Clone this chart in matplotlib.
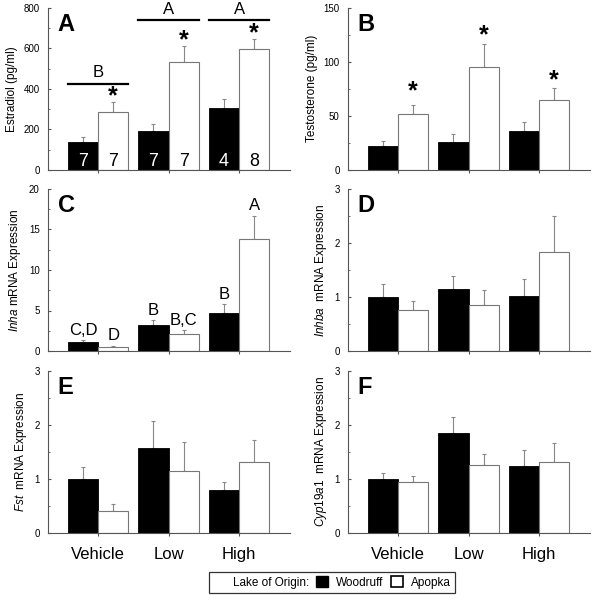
import numpy as np
import matplotlib
matplotlib.use("Agg")
import matplotlib.pyplot as plt
from matplotlib.patches import Patch
from matplotlib.ticker import AutoMinorLocator

plt.rcParams['font.family'] = ['Liberation Sans', 'DejaVu Sans']
plt.rcParams['mathtext.fontset'] = 'custom'
plt.rcParams['mathtext.it'] = 'Liberation Sans:italic'
plt.rcParams['mathtext.rm'] = 'Liberation Sans'

groups = ['Vehicle', 'Low', 'High']

# Estradiol (pg/ml)
e2_wood = [139, 193, 305]
e2_wood_err = [22, 33, 45]
e2_apop = [287, 530, 598]
e2_apop_err = [46, 81, 50]
e2_n_wood = [7, 7, 4]
e2_n_apop = [7, 7, 8]

# Testosterone (pg/ml)
t_wood = [22, 26, 36]
t_wood_err = [4.5, 7, 8]
t_apop = [51.5, 95, 65]
t_apop_err = [8.5, 21.5, 11]

# Inha
inha_wood = [1.1, 3.25, 4.7]
inha_wood_err = [0.2, 0.55, 1.1]
inha_apop = [0.55, 2.15, 13.8]
inha_apop_err = [0.12, 0.4, 2.9]
inha_wood_lbl = ['C,D', 'B', 'B']
inha_apop_lbl = ['D', 'B,C', 'A']

# Inhba
inhba_wood = [1.0, 1.14, 1.02]
inhba_wood_err = [0.24, 0.25, 0.31]
inhba_apop = [0.76, 0.86, 1.83]
inhba_apop_err = [0.17, 0.27, 0.67]

# Fst
fst_wood = [1.0, 1.57, 0.79]
fst_wood_err = [0.22, 0.5, 0.15]
fst_apop = [0.41, 1.15, 1.31]
fst_apop_err = [0.13, 0.54, 0.4]

# Cyp19a1
cyp_wood = [1.0, 1.85, 1.23]
cyp_wood_err = [0.11, 0.3, 0.31]
cyp_apop = [0.94, 1.26, 1.31]
cyp_apop_err = [0.11, 0.2, 0.36]

x = np.arange(len(groups))
w = 0.43


def draw_panel(ax, wood, wood_err, apop, apop_err, ymax, step, ylabel, letter):
    ax.bar(x - w / 2, wood, w, color='black', edgecolor='black', lw=0.6, zorder=2)
    ax.bar(x + w / 2, apop, w, color='white', edgecolor='#777777', lw=0.8, zorder=2)
    ax.errorbar(x - w / 2, wood, yerr=[np.zeros(3), wood_err], fmt='none',
                ecolor='#888888', elinewidth=0.8, capsize=1.5, capthick=0.8, zorder=1)
    ax.errorbar(x + w / 2, apop, yerr=[np.zeros(3), apop_err], fmt='none',
                ecolor='#888888', elinewidth=0.8, capsize=1.5, capthick=0.8, zorder=1)
    ax.set_xlim(-0.71, 2.72)
    ax.set_ylim(0, ymax)
    ax.set_yticks(np.arange(0, ymax + step / 2, step))
    ax.yaxis.set_minor_locator(AutoMinorLocator(2))
    ax.set_xticks(x)
    ax.set_xticklabels([])
    for s in ['top', 'right']:
        ax.spines[s].set_visible(False)
    for s in ['left', 'bottom']:
        ax.spines[s].set_color('#555555')
        ax.spines[s].set_linewidth(0.8)
    ax.tick_params(axis='y', direction='in', length=2.5, labelsize=7, color='#555555', pad=6)
    ax.tick_params(axis='y', which='minor', direction='in', length=1.5, color='#555555')
    ax.tick_params(axis='x', direction='out', length=2, color='#555555')
    ax.set_ylabel(ylabel, fontsize=8.5, labelpad=4)
    ax.text(0.04, 0.97, letter, transform=ax.transAxes, fontsize=17,
            fontweight='bold', va='top', ha='left')


def star(ax, xpos, top, offset_pt):
    # asterisk glyph sits high above its baseline, so anchor the baseline below
    ax.annotate('*', xy=(xpos, top), xytext=(0, offset_pt - 7),
                textcoords='offset points', fontsize=18, fontweight='bold',
                ha='center', va='baseline')


fig = plt.figure(figsize=(6, 6), dpi=100)
lefts = [0.08, 0.58]
bottoms = [0.717, 0.415, 0.112]
axw, axh = 0.403, 0.27

axA = fig.add_axes([lefts[0], bottoms[0], axw, axh])
axB = fig.add_axes([lefts[1], bottoms[0], axw, axh])
axC = fig.add_axes([lefts[0], bottoms[1], axw, axh])
axD = fig.add_axes([lefts[1], bottoms[1], axw, axh])
axE = fig.add_axes([lefts[0], bottoms[2], axw, axh])
axF = fig.add_axes([lefts[1], bottoms[2], axw, axh])

draw_panel(axA, e2_wood, e2_wood_err, e2_apop, e2_apop_err, 800, 200, 'Estradiol (pg/ml)', 'A')
draw_panel(axB, t_wood, t_wood_err, t_apop, t_apop_err, 150, 50, 'Testosterone (pg/ml)', 'B')
draw_panel(axC, inha_wood, inha_wood_err, inha_apop, inha_apop_err, 20, 5,
           r'$\it{Inha}$ mRNA Expression', 'C')
draw_panel(axD, inhba_wood, inhba_wood_err, inhba_apop, inhba_apop_err, 3, 1,
           r'$\it{Inhba}$  mRNA Expression', 'D')
draw_panel(axE, fst_wood, fst_wood_err, fst_apop, fst_apop_err, 3, 1,
           r'$\it{Fst}$  mRNA Expression', 'E')
draw_panel(axF, cyp_wood, cyp_wood_err, cyp_apop, cyp_apop_err, 3, 1,
           r'$\it{Cyp19a1}$  mRNA Expression', 'F')

# panel A: sample sizes, asterisks, group letters
for i in range(3):
    axA.text(x[i] - w / 2, 42, str(e2_n_wood[i]), color='white', fontsize=13,
             ha='center', va='center')
    axA.text(x[i] + w / 2, 42, str(e2_n_apop[i]), color='black', fontsize=13,
             ha='center', va='center')
    star(axA, x[i] + w / 2, e2_apop[i] + e2_apop_err[i], 6)
a_lines = [(0, 'B', 426), (1, 'A', 738), (2, 'A', 738)]
for gi, lbl, yv in a_lines:
    axA.plot([x[gi] - w, x[gi] + w], [yv, yv], color='black', lw=1.6)
    axA.text(x[gi], yv + 18, lbl, fontsize=12, ha='center', va='bottom')

# panel B asterisks
for i, off in enumerate([12, 8, 7]):
    star(axB, x[i] + w / 2, t_apop[i] + t_apop_err[i], off)

# panel C letters
for i in range(3):
    axC.text(x[i] - w / 2, inha_wood[i] + inha_wood_err[i] + 0.3, inha_wood_lbl[i],
             fontsize=12, ha='center', va='bottom')
    axC.text(x[i] + w / 2, inha_apop[i] + inha_apop_err[i] + 0.3, inha_apop_lbl[i],
             fontsize=12, ha='center', va='bottom')

for ax in (axE, axF):
    ax.set_xticklabels(groups, fontsize=12)
    ax.tick_params(axis='x', pad=8)

handles = [Patch(facecolor='none', edgecolor='none'),
           Patch(facecolor='black', edgecolor='black'),
           Patch(facecolor='white', edgecolor='black', lw=1.2)]
labels = ['Lake of Origin:', 'Woodruff', 'Apopka']
leg = fig.legend(handles, labels, ncol=3, loc='center', bbox_to_anchor=(0.553, 0.029),
                 fontsize=8.5, frameon=True, fancybox=False, edgecolor='black',
                 handlelength=1.0, handleheight=1.0, handletextpad=0.7,
                 columnspacing=0.6, borderpad=0.35, borderaxespad=0)
leg.get_frame().set_linewidth(0.9)

fig.savefig('out.png', dpi=100)
